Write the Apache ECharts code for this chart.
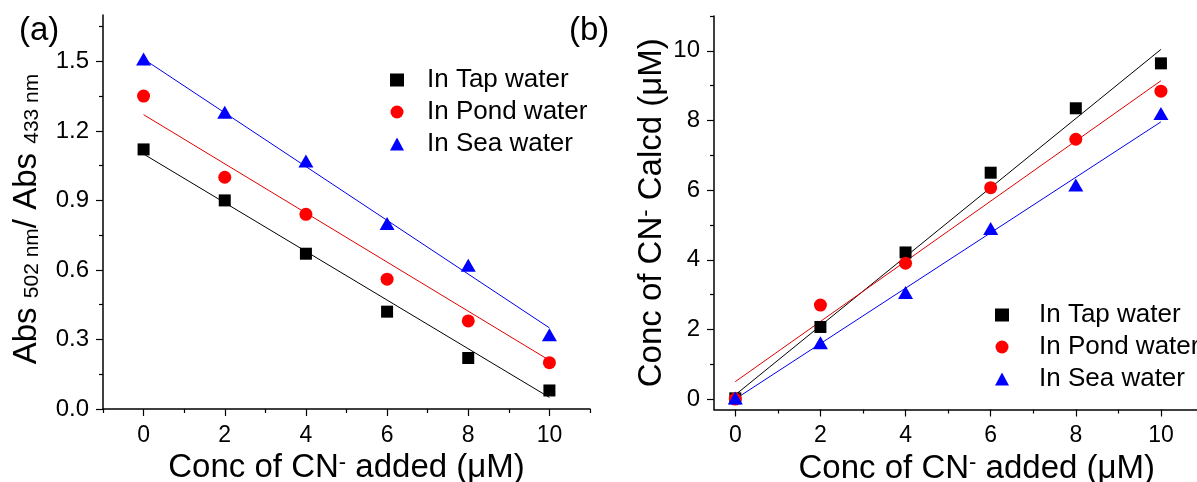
<!DOCTYPE html>
<html><head><meta charset="utf-8">
<script src="https://cdn.jsdelivr.net/npm/echarts@6/dist/echarts.min.js"></script>
<style>html,body{margin:0;padding:0;background:#fff}#c{width:1197px;height:482px}</style>
</head><body><div id="c"></div>
<script>
// ---- data ----
const concAdded = [0, 2, 4, 6, 8, 10];
const seriesNames = ['In Tap water', 'In Pond water', 'In Sea water'];

// panel (a): Abs502/Abs433 ratio
const ratioTap  = [1.12, 0.90, 0.67, 0.42, 0.22, 0.08];
const ratioPond = [1.35, 1.00, 0.84, 0.56, 0.38, 0.20];
const ratioSea  = [1.51, 1.28, 1.07, 0.80, 0.62, 0.32];
// linear-fit lines, value at x = 0 and x = 10
const fitX = [0, 10];
const ratioFitTap  = [1.10, 0.05];
const ratioFitPond = [1.27, 0.21];
const ratioFitSea  = [1.51, 0.35];

// panel (b): calculated concentration
const calcTap  = [0.02, 2.07, 4.21, 6.50, 8.35, 9.64];
const calcPond = [0.00, 2.70, 3.90, 6.07, 7.46, 8.84];
const calcSea  = [0.03, 1.62, 3.06, 4.90, 6.15, 8.20];
const calcFitTap  = [0.12, 10.04];
const calcFitPond = [0.50, 9.14];
const calcFitSea  = [0.00, 7.96];

// tick values
const xMajorTicks = [0, 2, 4, 6, 8, 10];
const xMinorTicksA = [-1, 1, 3, 5, 7, 9, 11];
const xMinorTicksB = [1, 3, 5, 7, 9, 11];
const ratioMajorTicks = [0, 0.3, 0.6, 0.9, 1.2, 1.5];
const ratioMinorTicks = [0.15, 0.45, 0.75, 1.05, 1.35, 1.65];
const calcMajorTicks = [0, 2, 4, 6, 8, 10];
const calcMinorTicks = [1, 3, 5, 7, 9, 11];

// ---- chart ----
const FONT = "'Liberation Sans', Arial, sans-serif";
const colors = ['#000000', '#ff0000', '#0000ff'];
const fitColors = ['#000000', '#e00000', '#0000ee'];
const symbols = ['rect', 'circle', 'triangle'];
const symbolSizes = [12, 13, [15, 13]];

const pair = (xs, ys) => xs.map((x, i) => [x, ys[i]]);

function majorAxis(gridIndex, min, max, ticks, labelSize, margin, fmt, extra) {
  return Object.assign({
    type: 'value', gridIndex, min, max,
    axisLine: { show: true, onZero: false, lineStyle: { color: '#000', width: 1.5 } },
    axisTick: { show: true, inside: false, length: 7, customValues: ticks, lineStyle: { color: '#000', width: 1.2 } },
    axisLabel: { show: true, customValues: ticks, fontSize: labelSize, fontFamily: FONT, color: '#000', margin: margin, formatter: fmt },
    splitLine: { show: false }
  }, extra || {});
}
function minorAxis(gridIndex, min, max, ticks, pos) {
  return {
    type: 'value', gridIndex, min, max, position: pos,
    axisLine: { show: false, onZero: false },
    axisTick: { show: true, inside: false, length: 4, customValues: ticks, lineStyle: { color: '#000', width: 1.2 } },
    axisLabel: { show: false },
    splitLine: { show: false }
  };
}

const nameStyle = {
  fontSize: 33, lineHeight: 33, fontFamily: FONT, color: '#000',
  rich: {
    sub: { fontSize: 21, lineHeight: 4, verticalAlign: 'bottom', fontFamily: FONT, color: '#000' },
    sup: { fontSize: 22, lineHeight: 12, verticalAlign: 'top', fontFamily: FONT, color: '#000' }
  }
};

const fmtInt = v => String(Math.round(v));
const fmt1 = v => v.toFixed(1);

const xAxis = [
  majorAxis(0, -1, 11, xMajorTicks, 23, 15, fmtInt, {
    position: 'bottom', name: 'Conc of CN{sup|-} added (\u03bcM)', nameLocation: 'middle', nameGap: 30,
    nameTextStyle: nameStyle
  }),
  minorAxis(0, -1, 11, xMinorTicksA, 'bottom'),
  majorAxis(1, -0.5, 11, xMajorTicks, 23, 15, fmtInt, {
    position: 'bottom', name: 'Conc of CN{sup|-} added (\u03bcM)', nameLocation: 'middle', nameGap: 30,
    nameTextStyle: Object.assign({}, nameStyle, { padding: [0, 0, 0, 36] })
  }),
  minorAxis(1, -0.5, 11, xMinorTicksB, 'bottom')
];
const yAxis = [
  majorAxis(0, 0, 1.7, ratioMajorTicks, 24, 14, fmt1, {
    position: 'left', name: 'Abs {sub|502 nm}/ Abs {sub|433 nm}', nameLocation: 'middle', nameGap: 60,
    nameTextStyle: Object.assign({}, nameStyle, { padding: [0, 14, 0, 0] })
  }),
  minorAxis(0, 0, 1.7, ratioMinorTicks, 'left'),
  majorAxis(1, -0.3, 11, calcMajorTicks, 24, 14, fmtInt, {
    position: 'left', name: 'Conc of CN{sup|-} Calcd (\u03bcM)', nameLocation: 'middle', nameGap: 46,
    nameTextStyle: nameStyle
  }),
  minorAxis(1, -0.3, 11, calcMinorTicks, 'left')
];

const series = [];
const panelA = [ratioTap, ratioPond, ratioSea];
const panelAFit = [ratioFitTap, ratioFitPond, ratioFitSea];
const panelB = [calcTap, calcPond, calcSea];
const panelBFit = [calcFitTap, calcFitPond, calcFitSea];
[[panelA, panelAFit, 0], [panelB, panelBFit, 2]].forEach(([pts, fits, ax]) => {
  for (let i = 0; i < 3; i++) {
    series.push({
      type: 'line', name: 'fit ' + seriesNames[i] + ax, xAxisIndex: ax, yAxisIndex: ax,
      data: pair(fitX, fits[i]), showSymbol: false, silent: true, z: 2,
      lineStyle: { color: fitColors[i], width: 1 }
    });
  }
  for (let i = 0; i < 3; i++) {
    series.push({
      type: 'scatter', name: seriesNames[i], xAxisIndex: ax, yAxisIndex: ax,
      data: pair(concAdded, pts[i]), symbol: symbols[i], symbolSize: symbolSizes[i], z: 3,
      itemStyle: { color: colors[i], opacity: 1 }
    });
  }
});

function legendAt(left, top, textGap) {
  return {
    data: seriesNames, orient: 'vertical', left, top,
    itemWidth: 14, itemHeight: 13, itemGap: 6, padding: 0,
    textStyle: { fontSize: 26, lineHeight: 26, fontFamily: FONT, color: '#000', padding: [0, 0, 0, textGap] }
  };
}

const option = {
  animation: false,
  backgroundColor: '#fff',
  title: [
    { text: '(a)', left: 14, top: 9, textStyle: { fontSize: 33, fontWeight: 'normal', fontFamily: FONT, color: '#000' } },
    { text: '(b)', left: 564, top: 9, textStyle: { fontSize: 33, fontWeight: 'normal', fontFamily: FONT, color: '#000' } }
  ],
  legend: [
    legendAt(390, 67, 18),
    legendAt(995, 302, 25)
  ],
  grid: [
    { left: 103, right: 607, top: 15, bottom: 73, outerBoundsMode: 'none' },
    { left: 714, right: -6.5, top: 16, bottom: 72.5, outerBoundsMode: 'none' }
  ],
  xAxis, yAxis, series
};

const chart = echarts.init(document.getElementById('c'), null, { renderer: 'canvas' });
chart.setOption(option);
</script>
</body></html>
